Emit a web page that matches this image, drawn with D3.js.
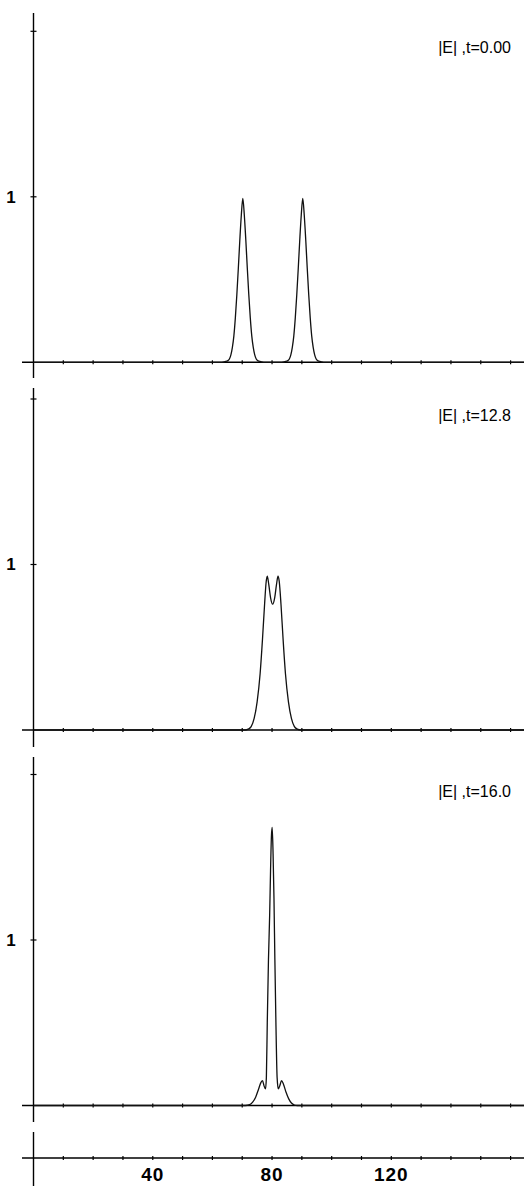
<!DOCTYPE html>
<html>
<head>
<meta charset="utf-8">
<script src="https://cdn.jsdelivr.net/npm/d3@7"></script>
<style>
  body { margin: 0; background: #fff; }
  svg { display: block; }
  .axis-line { stroke: #000; stroke-width: 1.4; fill: none; }
  .tick-mark { stroke: #000; stroke-width: 1.2; }
  .field { fill: none; stroke: #111; stroke-width: 1.3; stroke-linejoin: round; }
  .label { font-family: "Liberation Sans", Arial, sans-serif; fill: #000; }
</style>
</head>
<body>
<script>
// |E| profiles, [x, |E|]
var profileT0 = [
  [0, 0], [63.2, 0], [64.2, 0.004], [65.2, 0.01], [65.7, 0.02], [66.2, 0.045], [66.7, 0.09],
  [67.2, 0.16], [67.7, 0.27], [68.2, 0.41], [68.7, 0.57], [69.2, 0.74], [69.7, 0.89], [70.2, 0.99],
  [70.7, 0.89], [71.2, 0.74], [71.7, 0.57], [72.2, 0.41], [72.7, 0.27], [73.2, 0.16], [73.7, 0.09],
  [74.2, 0.045], [74.7, 0.02], [75.2, 0.01], [76.2, 0.004], [77.2, 0],
  [83.3, 0], [84.3, 0.004], [85.3, 0.01], [85.8, 0.02], [86.3, 0.045], [86.8, 0.09], [87.3, 0.16],
  [87.8, 0.27], [88.3, 0.41], [88.8, 0.57], [89.3, 0.74], [89.8, 0.89], [90.3, 0.99], [90.8, 0.89],
  [91.3, 0.74], [91.8, 0.57], [92.3, 0.41], [92.8, 0.27], [93.3, 0.16], [93.8, 0.09], [94.3, 0.045],
  [94.8, 0.02], [95.3, 0.01], [96.3, 0.004], [97.3, 0], [164.5, 0]
];

var profileT128 = [
  [0, 0], [71, 0], [72, 0.005], [73, 0.02], [74, 0.07], [75, 0.17], [76, 0.34],
  [76.8, 0.55], [77.5, 0.76], [78, 0.89], [78.4, 0.93], [78.9, 0.88], [79.5, 0.8], [80.2, 0.76],
  [80.9, 0.8], [81.5, 0.88], [82, 0.93], [82.4, 0.9], [83, 0.76], [83.7, 0.55], [84.5, 0.34],
  [85.5, 0.17], [86.5, 0.07], [87.5, 0.02], [88.5, 0.005], [89.5, 0], [164.5, 0]
];

var profileT160 = [
  [0, 0], [71, 0], [72.5, 0.005], [73.5, 0.02], [74.5, 0.05], [75.5, 0.1], [76.3, 0.14], [76.8, 0.15],
  [77.3, 0.12], [77.8, 0.1], [78.1, 0.17], [78.4, 0.5], [78.8, 0.88], [79.2, 1.15], [79.5, 1.42],
  [79.8, 1.63], [80.05, 1.68], [80.35, 1.52], [80.65, 1.25], [80.95, 0.88], [81.3, 0.5], [81.7, 0.17],
  [82.1, 0.1], [82.6, 0.12], [83.2, 0.15], [83.8, 0.13], [84.7, 0.08], [85.6, 0.04], [86.5, 0.015],
  [87.5, 0.003], [88.5, 0], [164.5, 0]
];

var panelTitles = ['|E| ,t=0.00', '|E| ,t=12.8', '|E| ,t=16.0'];
var xTickValues = [0, 10, 20, 30, 40, 50, 60, 70, 80, 90, 100, 110, 120, 130, 140, 150, 160];
var xTickLabels = [40, 80, 120];
var yTickValues = [1, 2];
var yTickLabels = [1];

var width = 524,
    height = 1186;

var x = d3.scaleLinear().domain([0, 164.5]).range([33.5, 524]);

var svg = d3.select('body').append('svg')
  .attr('width', width)
  .attr('height', height);

function drawPanel (profile, title, base, axisTop, axisBottom) {
  var y = d3.scaleLinear().domain([0, 2]).range([base, base - 331]);
  var g = svg.append('g');

  // vertical axis
  g.append('line').attr('class', 'axis-line')
    .attr('x1', x(0)).attr('x2', x(0))
    .attr('y1', axisTop).attr('y2', axisBottom);

  // baseline
  g.append('line').attr('class', 'axis-line')
    .attr('x1', 22).attr('x2', width)
    .attr('y1', y(0)).attr('y2', y(0));

  g.selectAll('.xt').data(xTickValues.slice(1)).enter().append('line')
    .attr('class', 'tick-mark')
    .attr('x1', function (d) { return x(d); }).attr('x2', function (d) { return x(d); })
    .attr('y1', y(0) - 2).attr('y2', y(0) + 2);

  g.selectAll('.yt').data(yTickValues).enter().append('line')
    .attr('class', 'tick-mark')
    .attr('x1', x(0) - 3).attr('x2', x(0) + 3)
    .attr('y1', function (d) { return y(d); }).attr('y2', function (d) { return y(d); });

  g.selectAll('.yl').data(yTickLabels).enter().append('text')
    .attr('class', 'label')
    .attr('x', 11)
    .attr('y', function (d) { return y(d); })
    .attr('dy', '0.35em')
    .attr('text-anchor', 'middle')
    .style('font-size', '17px')
    .style('font-weight', 'bold')
    .text(function (d) { return d; });

  g.append('text')
    .attr('class', 'label')
    .attr('x', 511)
    .attr('y', y(2) + 22)
    .attr('text-anchor', 'end')
    .style('font-size', '16px')
    .text(title);

  var line = d3.line()
    .x(function (d) { return x(d[0]); })
    .y(function (d) { return y(d[1]); })
    .curve(d3.curveMonotoneX);

  g.append('path')
    .datum(profile)
    .attr('class', 'field')
    .attr('d', line);
}

drawPanel(profileT0, panelTitles[0], 362.3, 13, 378);
drawPanel(profileT128, panelTitles[1], 730, 388, 747);
drawPanel(profileT160, panelTitles[2], 1105.5, 757, 1122);

// bottom x axis
var axisY = 1158;
svg.append('line').attr('class', 'axis-line')
  .attr('x1', x(0)).attr('x2', x(0))
  .attr('y1', 1132).attr('y2', height);
svg.append('line').attr('class', 'axis-line')
  .attr('x1', 22).attr('x2', width)
  .attr('y1', axisY).attr('y2', axisY);
svg.selectAll('.bt').data(xTickValues.slice(1)).enter().append('line')
  .attr('class', 'tick-mark')
  .attr('x1', function (d) { return x(d); }).attr('x2', function (d) { return x(d); })
  .attr('y1', axisY - 2).attr('y2', axisY + 2);
svg.selectAll('.bl').data(xTickLabels).enter().append('text')
  .attr('class', 'label')
  .attr('x', function (d) { return x(d); })
  .attr('y', 1181)
  .attr('text-anchor', 'middle')
  .style('font-size', '19px')
  .style('font-weight', 'bold')
  .style('letter-spacing', '1px')
  .text(function (d) { return d; });
</script>
</body>
</html>
